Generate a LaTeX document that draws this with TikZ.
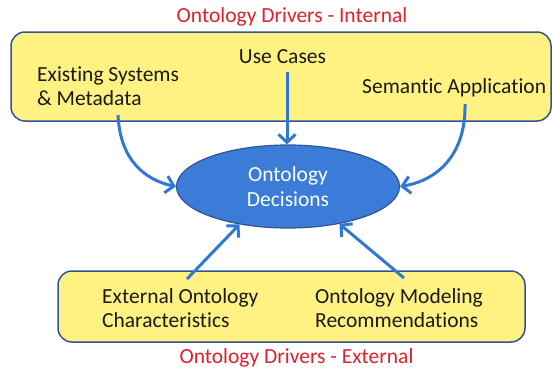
\documentclass[tikz,border=0pt]{standalone}
\usepackage{fontspec}
\setmainfont{Carlito}[Ligatures={NoCommon}]
\usetikzlibrary{arrows.meta,shapes.geometric}
\definecolor{boxfill}{HTML}{FFF282}
\definecolor{boxline}{HTML}{2F5597}
\definecolor{ellfill}{HTML}{3A7CD8}
\definecolor{arrowblue}{HTML}{2F78D6}
\definecolor{titlered}{HTML}{E0202A}
\definecolor{txt}{HTML}{1A1A1A}
\tikzset{
  ybox/.style={draw=boxline, fill=boxfill, line width=1.5pt, rounded corners=14pt, inner sep=0pt},
  lbl/.style={font=\fontsize{21.5}{24.5}\selectfont, text=txt, inner sep=0pt},
  ttl/.style={font=\fontsize{21.5}{24.5}\selectfont, text=titlered, inner sep=0pt, anchor=base},
  decision/.style={ellipse, draw=boxline, fill=ellfill, line width=1.2pt, minimum width=223pt, minimum height=83pt, inner sep=0pt, align=center, text=white, font=\fontsize{21.5}{25}\selectfont},
  conn/.style={draw=arrowblue, line width=3pt, -{Straight Barb[length=8pt,width=17pt]}}
}
\begin{document}
\begin{tikzpicture}[x=1pt,y=-1pt]
\useasboundingbox (0,0) rectangle (552,372);
% boxes
\node[ybox, minimum width=540pt, minimum height=89pt] (inbox) at (281,76.5) {};
\node[ybox, minimum width=467pt, minimum height=71pt] (exbox) at (291.5,306.5) {};
% titles
\node[ttl] (tin) at (292,23) {Ontology Drivers - Internal};
\node[ttl] (tex) at (296.5,363) {Ontology Drivers - External};
% labels
\node[lbl, anchor=base] (uc) at (282.5,63) {Use Cases};
\node[lbl, anchor=base west] (es) at (37,81) {\begin{tabular}[t]{@{}l@{}}Existing Systems\\ \& Metadata\end{tabular}};
\node[lbl, anchor=base west] (sa) at (362,93) {Semantic Application};
\node[lbl, anchor=base west] (eo) at (102,303) {\begin{tabular}[t]{@{}l@{}}External Ontology\\ Characteristics\end{tabular}};
\node[lbl, anchor=base west] (om) at (315,303) {\begin{tabular}[t]{@{}l@{}}Ontology Modeling\\ Recommendations\end{tabular}};
% ellipse
\node[decision] (dec) at (288,186.5) {Ontology\\Decisions};
% connector start points
\coordinate (esS) at (118,115);
\coordinate (ucS) at (287,72);
\coordinate (saS) at (465,104);
\coordinate (eoS) at (187,279);
\coordinate (omS) at (404,278);
% connectors
\draw[conn] (esS) .. controls (120,160) and (145,180) .. (dec.west);
\draw[conn] (ucS) -- (ucS |- dec.north);
\draw[conn] (saS) .. controls (466,152) and (440,180) .. (dec.east);
\draw[conn] (eoS) -- (dec.218);
\draw[conn] (omS) -- (dec.324);
\end{tikzpicture}
\end{document}
